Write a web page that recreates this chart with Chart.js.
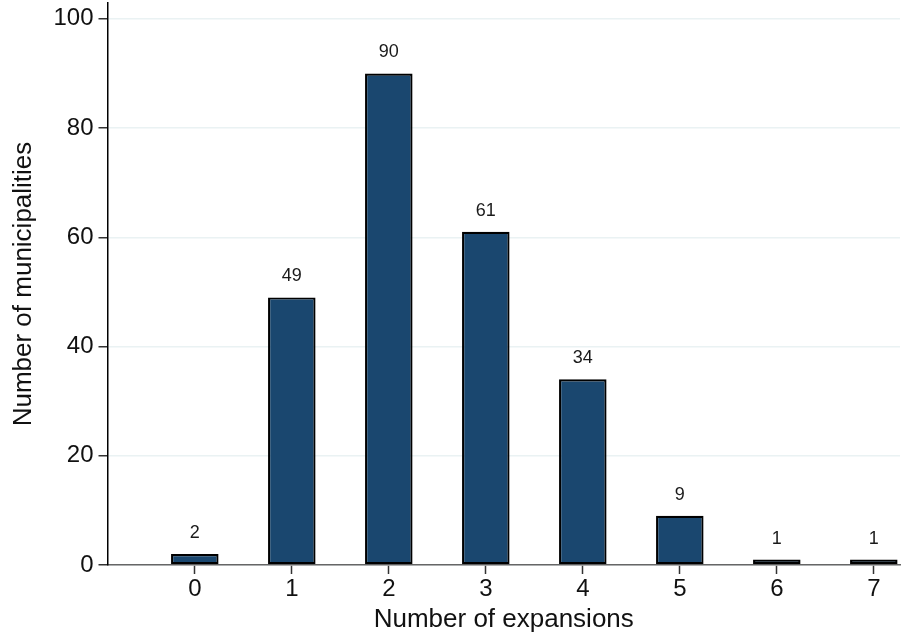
<!DOCTYPE html>
<html>
<head>
<meta charset="utf-8">
<script src="https://cdn.jsdelivr.net/npm/chart.js@4.4.1/dist/chart.umd.min.js"></script>
<style>
  html, body { margin: 0; padding: 0; background: #ffffff; overflow: hidden; }
  #wrap { width: 904px; height: 638px; position: relative; }
</style>
</head>
<body>
<div id="wrap"><canvas id="c" width="904" height="638"></canvas></div>
<script>
// Data
const categories = [0, 1, 2, 3, 4, 5, 6, 7];
const counts = [2, 49, 90, 61, 34, 9, 1, 1];
const yTicks = [0, 20, 40, 60, 80, 100];
const xTitle = 'Number of expansions';
const yTitle = 'Number of municipalities';

const FONT = "'Liberation Sans', Arial, Helvetica, sans-serif";

const barLabels = {
  id: 'barLabels',
  afterDatasetsDraw(chart) {
    const ctx = chart.ctx;
    const meta = chart.getDatasetMeta(0);
    ctx.save();
    ctx.font = '18px ' + FONT;
    ctx.fillStyle = '#1a1a1a';
    ctx.textAlign = 'center';
    ctx.textBaseline = 'middle';
    meta.data.forEach((bar, i) => {
      ctx.fillText(String(counts[i]), bar.x, bar.y - 21);
    });
    ctx.restore();
  }
};

new Chart(document.getElementById('c'), {
  type: 'bar',
  data: {
    datasets: [{
      data: categories.map((c, i) => ({ x: c, y: counts[i] })),
      backgroundColor: '#1a476f',
      borderColor: '#000000',
      borderWidth: 2.2,
      borderSkipped: false,
      categoryPercentage: 1,
      barPercentage: 0.49
    }]
  },
  options: {
    responsive: false,
    animation: false,
    layout: { padding: { top: 3, right: 4, left: 0, bottom: 0 } },
    plugins: { legend: { display: false }, tooltip: { enabled: false } },
    scales: {
      x: {
        type: 'linear',
        offset: false,
        min: -0.9,
        max: 7.27,
        afterBuildTicks: s => { s.ticks = categories.map(v => ({ value: v })); },
        afterFit: s => { s.height = 73; s.paddingLeft = 0; s.paddingRight = 0; },
        border: { display: true, color: '#666666', width: 1.5 },
        grid: { offset: false, drawOnChartArea: false, drawTicks: true, tickLength: 9, tickColor: '#333333', tickWidth: 1.5 },
        ticks: { font: { family: FONT, size: 24 }, color: '#111111', padding: 1, maxRotation: 0, autoSkip: false },
        title: { display: true, text: xTitle, font: { family: FONT, size: 26 }, color: '#111111', padding: { top: 0, bottom: 3 } }
      },
      y: {
        min: 0,
        max: 102.9,
        afterBuildTicks: s => { s.ticks = yTicks.map(v => ({ value: v })); },
        afterFit: s => { s.width = 107.5; s.paddingTop = 0; s.paddingBottom = 0; },
        border: { display: true, color: '#000000', width: 1.5 },
        grid: { color: '#eaf2f3', lineWidth: 1.5, drawTicks: true, tickLength: 9, tickColor: '#333333', tickWidth: 1.5 },
        ticks: { font: { family: FONT, size: 24 }, color: '#111111', padding: 5 },
        title: { display: true, text: yTitle, font: { family: FONT, size: 26 }, color: '#111111', padding: { top: 8, bottom: 0 } }
      }
    }
  },
  plugins: [barLabels]
});
</script>
</body>
</html>
